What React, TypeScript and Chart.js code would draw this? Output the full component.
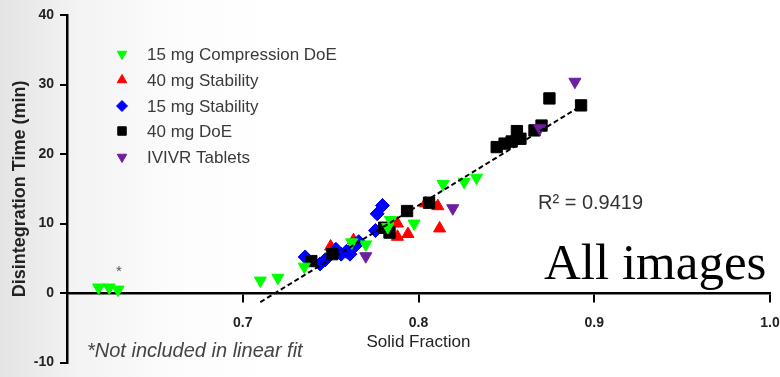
import React, { useEffect, useRef } from 'react';
import { Chart, registerables } from 'chart.js';
import { drawPoint } from 'chart.js/helpers';

Chart.register(...registerables);

const FONT = "'Liberation Sans', Arial, sans-serif";

const seriesNames = [
  '15 mg Compression DoE',
  '40 mg Stability',
  '15 mg Stability',
  '40 mg DoE',
  'IVIVR Tablets',
];

const greenX = [0.618, 0.624, 0.629, 0.710, 0.720, 0.735, 0.762, 0.770, 0.7825, 0.784, 0.7975, 0.814, 0.826, 0.833];
const greenY = [0.8, 0.8, 0.5, 1.8, 2.2, 3.8, 7.3, 7.0, 9.5, 10.5, 10.0, 15.7, 16.0, 16.6];

const redX = [0.750, 0.763, 0.788, 0.788, 0.794, 0.804, 0.808, 0.811, 0.812];
const redY = [6.7, 7.6, 10.0, 8.1, 8.5, 12.9, 12.8, 12.5, 9.3];

const blueX = [0.7355, 0.744, 0.747, 0.753, 0.756, 0.759, 0.761, 0.764, 0.766, 0.7755, 0.7765, 0.7795];
const blueY = [5.2, 4.2, 4.8, 6.3, 5.6, 6.0, 5.6, 6.8, 7.4, 9.0, 11.4, 12.6];

const blackX = [0.739, 0.751, 0.7805, 0.7835, 0.7935, 0.806, 0.8445, 0.849, 0.853, 0.856, 0.858, 0.866, 0.870, 0.8745, 0.8925];
const blackY = [4.6, 5.6, 9.4, 8.7, 11.8, 13.0, 21.0, 21.5, 21.8, 23.3, 22.2, 23.4, 24.1, 28.0, 27.0];

const purpleX = [0.770, 0.8195, 0.869, 0.889];
const purpleY = [5.3, 12.2, 23.7, 30.4];

const fitX = [0.710, 0.893];
const fitY = [-1.3, 27.0];

const xTickValues = [0.6, 0.7, 0.8, 0.9, 1.0];
const yTickValues = [-10, 0, 10, 20, 30, 40];

const rSquaredText = 'R\u00B2 = 0.9419';
const footnoteText = '*Not included in linear fit';
const excludedMarkText = '*';
const overlayText = 'All images';

const pts = (xs: number[], ys: number[]) => xs.map((x, i) => ({ x, y: ys[i] }));

const annotationPlugin = {
  id: 'annotations',
  afterDraw(chart: any) {
    const ctx = chart.ctx as CanvasRenderingContext2D;
    ctx.save();
    // legend
    const rows = [54, 80, 106, 131, 157];
    chart.data.datasets.forEach((ds: any, i: number) => {
      if (i >= seriesNames.length) return;
      const y = rows[i];
      ctx.fillStyle = ds.backgroundColor;
      ctx.strokeStyle = ds.borderColor;
      ctx.lineWidth = 1;
      const r = ds.pointStyle === 'rect' ? 6 : 5.5;
      drawPoint(ctx, { pointStyle: ds.pointStyle, rotation: ds.rotation || 0, radius: r, borderWidth: 1 }, 122, y);
      ctx.fillStyle = '#3a3a3a';
      ctx.font = `17px ${FONT}`;
      ctx.textAlign = 'left';
      ctx.textBaseline = 'middle';
      ctx.fillText(ds.label, 147, y + 1);
    });
    const xs = chart.scales.x;
    const ys = chart.scales.y;
    // R squared
    ctx.fillStyle = '#333';
    ctx.font = `20px ${FONT}`;
    ctx.textAlign = 'left';
    ctx.textBaseline = 'middle';
    ctx.fillText(rSquaredText, 538, 203);
    // asterisk above excluded points
    ctx.fillStyle = '#555';
    ctx.font = `15px ${FONT}`;
    ctx.textAlign = 'center';
    ctx.fillText(excludedMarkText, xs.getPixelForValue(0.6295), ys.getPixelForValue(3.0));
    // footnote
    ctx.fillStyle = '#444';
    ctx.font = `italic 20px ${FONT}`;
    ctx.textAlign = 'left';
    ctx.fillText(footnoteText, 87, 351);
    // overlay
    ctx.fillStyle = '#000';
    ctx.font = `51px 'Liberation Serif', 'DejaVu Serif', serif`;
    ctx.textAlign = 'left';
    ctx.textBaseline = 'alphabetic';
    ctx.fillText(overlayText, 544, 279);
    ctx.restore();
  },
};

export default function App() {
  const canvasRef = useRef<HTMLCanvasElement | null>(null);

  useEffect(() => {
    const canvas = canvasRef.current;
    if (!canvas) return;
    Chart.defaults.font.family = FONT;
    const chart = new Chart(canvas, {
      type: 'scatter',
      data: {
        datasets: [
          {
            label: seriesNames[0],
            data: pts(greenX, greenY),
            pointStyle: 'triangle',
            rotation: 180,
            pointRadius: 7,
            backgroundColor: '#00FF00',
            borderColor: '#00FF00',
            borderWidth: 1,
            order: 1,
          } as any,
          {
            label: seriesNames[1],
            data: pts(redX, redY),
            pointStyle: 'triangle',
            rotation: 0,
            pointRadius: 7,
            backgroundColor: '#FF0000',
            borderColor: '#FF0000',
            borderWidth: 1,
            order: 4,
          },
          {
            label: seriesNames[2],
            data: pts(blueX, blueY),
            pointStyle: 'rectRot',
            pointRadius: 7,
            backgroundColor: '#0000FF',
            borderColor: '#0000FF',
            borderWidth: 1,
            order: 3,
          },
          {
            label: seriesNames[3],
            data: pts(blackX, blackY),
            pointStyle: 'rect',
            pointRadius: 8,
            backgroundColor: '#000000',
            borderColor: '#000000',
            borderWidth: 1,
            order: 2,
          },
          {
            label: seriesNames[4],
            data: pts(purpleX, purpleY),
            pointStyle: 'triangle',
            rotation: 180,
            pointRadius: 7,
            backgroundColor: '#6E1FA0',
            borderColor: '#6E1FA0',
            borderWidth: 1,
            order: 0,
          } as any,
          {
            type: 'line',
            label: 'Linear fit',
            data: pts(fitX, fitY),
            borderColor: '#000',
            borderWidth: 2,
            borderDash: [5, 3],
            pointRadius: 0,
            showLine: true,
            fill: false,
            order: -1,
          } as any,
        ],
      },
      options: {
        animation: false,
        responsive: false,
        layout: { padding: { left: 0, right: 10, top: 15, bottom: 10 } },
        plugins: {
          legend: { display: false },
          tooltip: { enabled: false },
        },
        scales: {
          x: {
            type: 'linear',
            position: { y: 0 } as any,
            min: 0.6,
            max: 1.0,
            afterBuildTicks: (s: any) => {
              s.ticks = xTickValues.map((v) => ({ value: v }));
            },
            ticks: {
              color: '#222',
              font: { size: 14, weight: 'bold' },
              padding: 14,
              maxRotation: 0,
              callback: (v: any) => (Math.abs(Number(v) - 0.6) < 1e-6 ? '' : Number(v).toFixed(1)),
            },
            grid: { drawOnChartArea: false, drawTicks: true, tickLength: 8, color: '#000', lineWidth: 2 },
            border: { display: true, color: '#000', width: 2.5 },
            title: {
              display: true,
              text: 'Solid Fraction',
              color: '#222',
              font: { size: 17, weight: 'normal' },
              padding: { top: 0, bottom: -49 },
            },
            afterFit: (s: any) => {
              s.height = 10;
              s.paddingLeft = 0;
              s.paddingRight = 0;
            },
          } as any,
          y: {
            type: 'linear',
            position: 'left',
            min: -10,
            max: 40,
            afterBuildTicks: (s: any) => {
              s.ticks = yTickValues.map((v) => ({ value: v }));
            },
            ticks: {
              color: '#222',
              font: { size: 14, weight: 'bold' },
              padding: 6,
            },
            grid: { drawOnChartArea: false, drawTicks: true, tickLength: 7, color: '#000', lineWidth: 2 },
            border: { display: true, color: '#000', width: 2.5 },
            title: {
              display: true,
              text: 'Disintegration Time (min)',
              color: '#222',
              font: { size: 18, weight: 'bold' },
              padding: { top: 9, bottom: 0 },
            },
            afterFit: (s: any) => {
              s.width = 67;
            },
          } as any,
        },
      },
      plugins: [annotationPlugin],
    });
    return () => chart.destroy();
  }, []);

  return (
    <div
      style={{
        position: 'absolute',
        left: 0,
        top: 0,
        width: 780,
        height: 377,
        background: 'linear-gradient(90deg, #e4e4e4 0%, #f3f3f3 10%, #fcfcfc 22%, #ffffff 35%, #ffffff 100%)',
      }}
    >
      <canvas ref={canvasRef} width={780} height={377} style={{ display: 'block' }} />
    </div>
  );
}
